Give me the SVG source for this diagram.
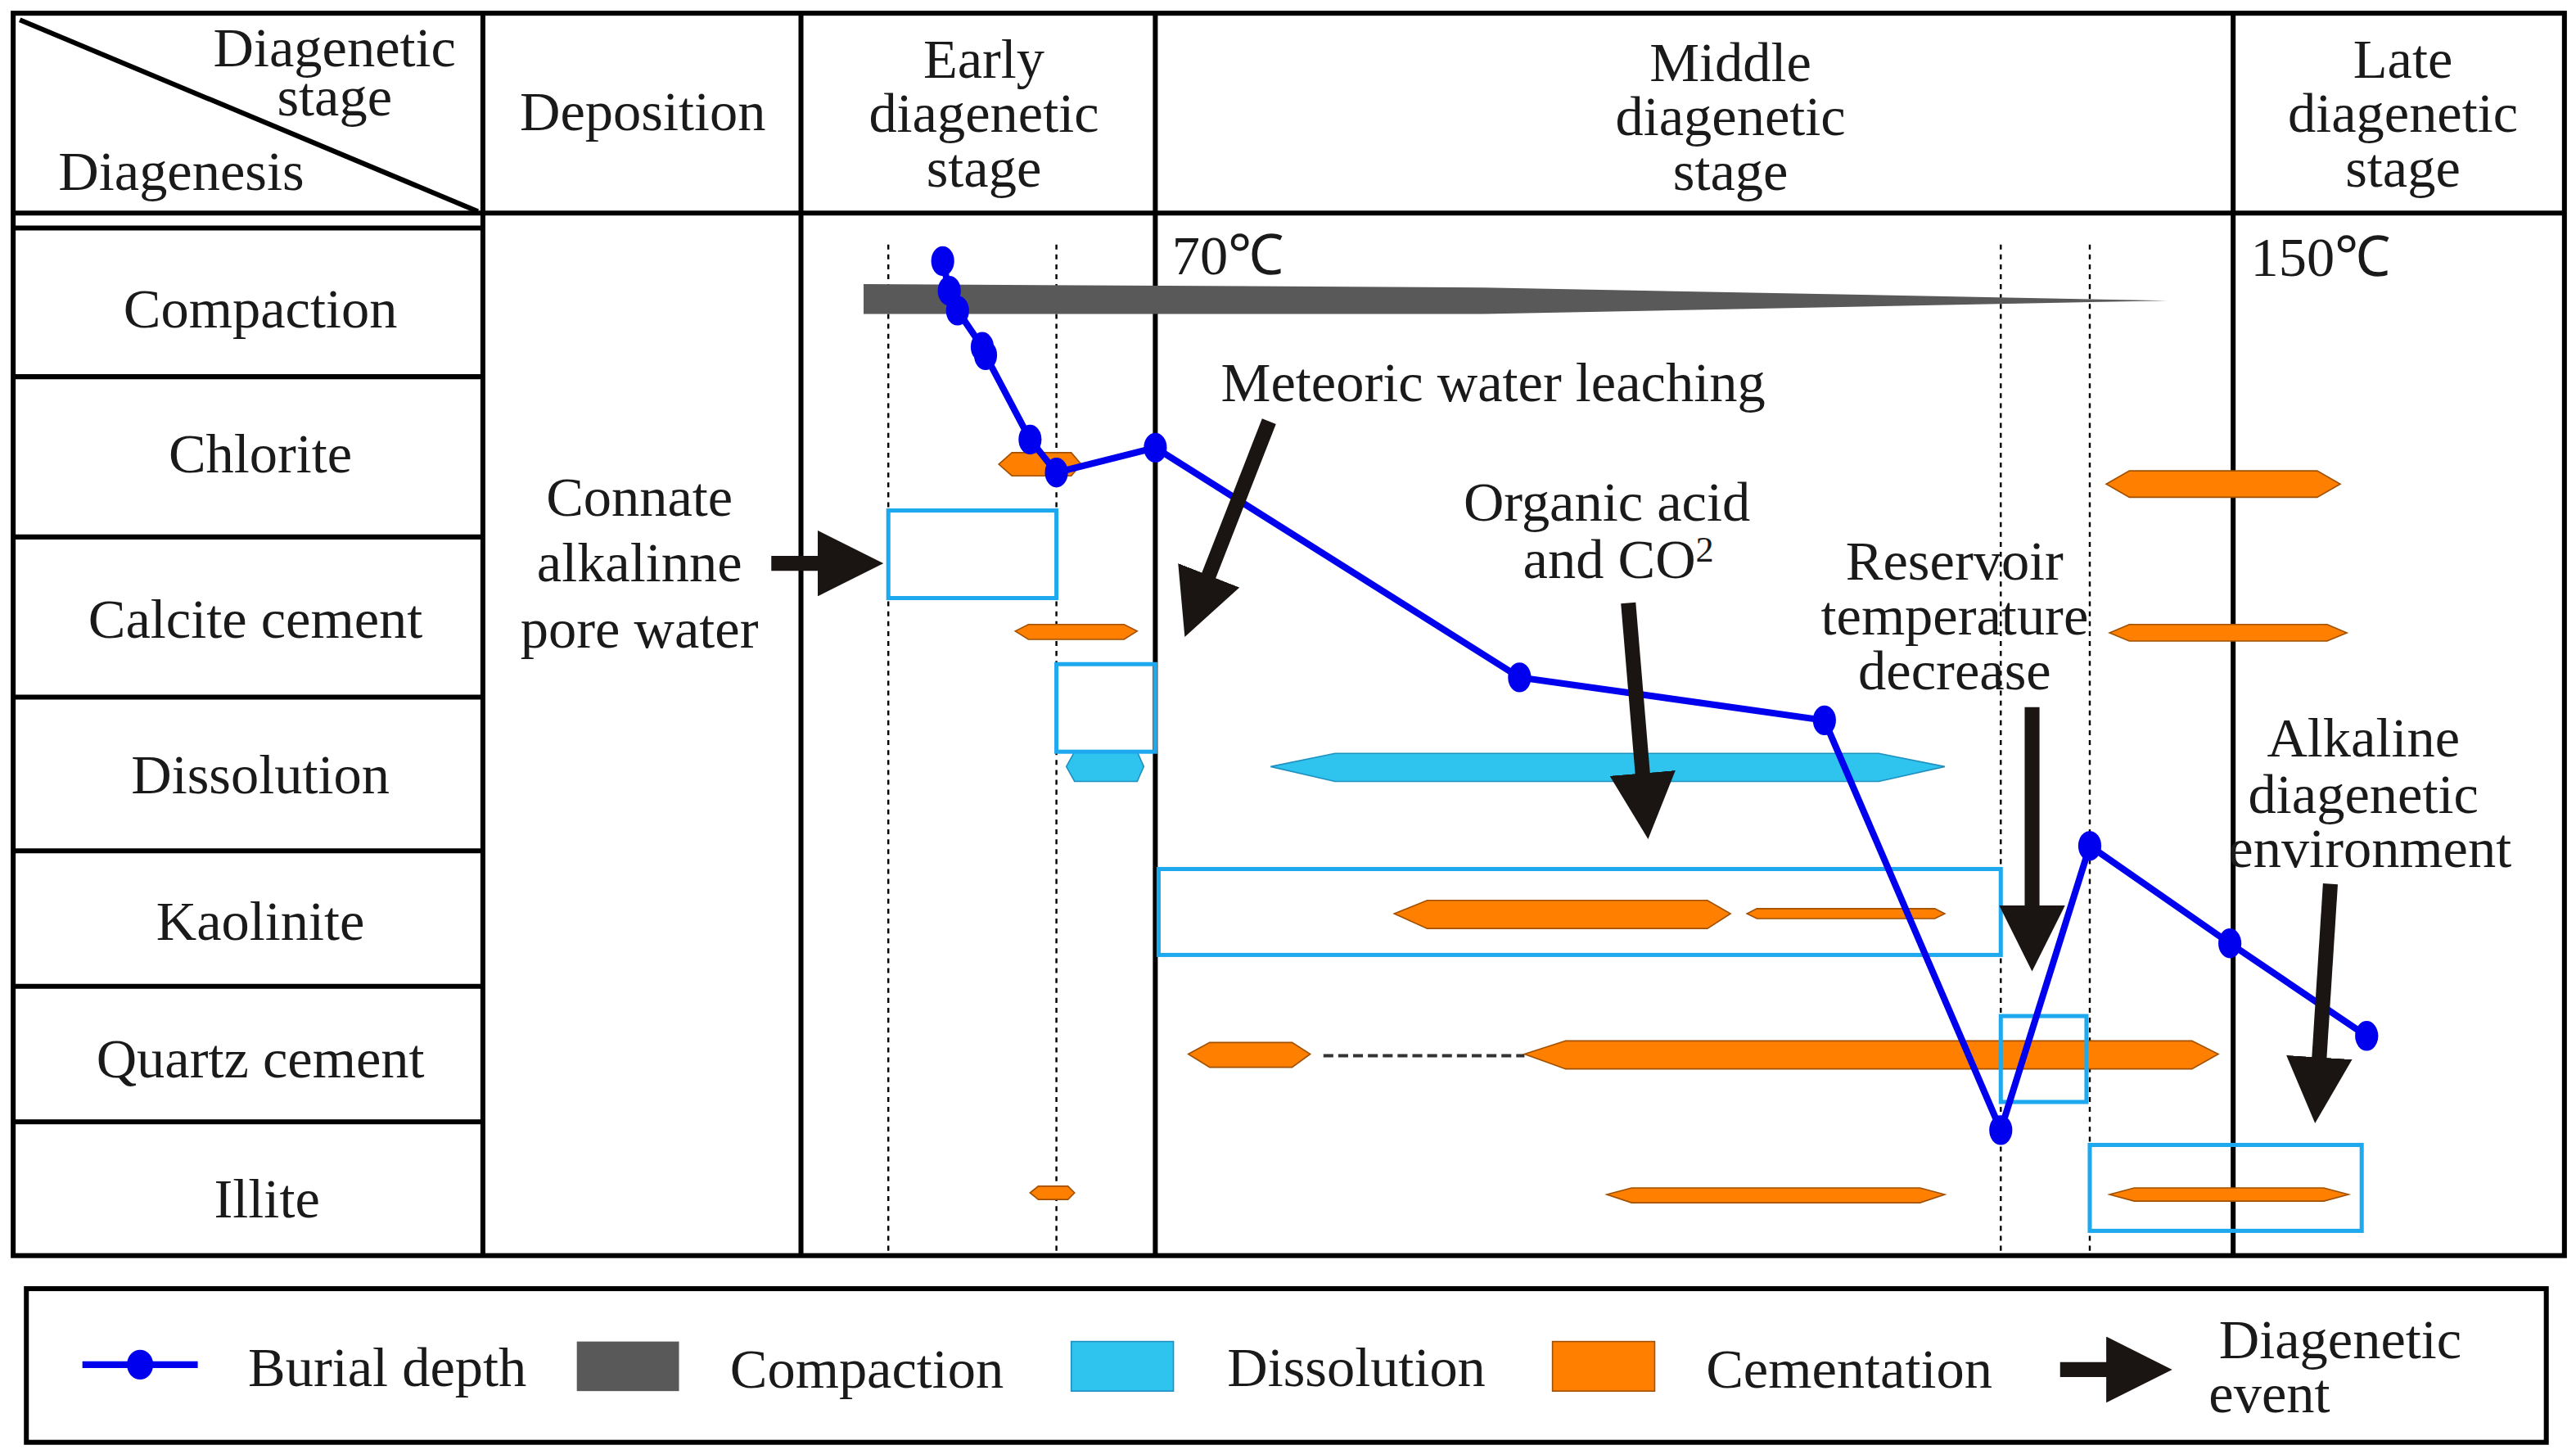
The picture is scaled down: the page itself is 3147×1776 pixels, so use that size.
<svg xmlns="http://www.w3.org/2000/svg" width="3147" height="1776" viewBox="0 0 3147 1776">
<style>
text{font-family:"Liberation Serif",serif;font-size:34px;fill:#1a1a1a;text-anchor:middle}
.g{stroke:#000;stroke-width:3;fill:none}
.d{stroke:#000;stroke-width:1.2;stroke-dasharray:3,3;fill:none}
.o{fill:#ff7f00;stroke:#a05000;stroke-width:0.8}
.c{fill:#2ec4ee;stroke:#2090c0;stroke-width:0.8}
.bx{fill:none;stroke:#1ea8ee;stroke-width:2.5}
.ar{stroke:#1a1512;stroke-width:9;fill:none;marker-end:url(#ah)}
.pt{fill:#0000ee}
</style>
<defs>
<marker id="ah" markerUnits="userSpaceOnUse" viewBox="0 0 40 40" refX="4" refY="20" markerWidth="40" markerHeight="40" orient="auto"><path d="M0,0 L40,20 L0,40 Z" fill="#1a1512"/></marker>
</defs>
<rect width="3147" height="1776" fill="#fff"/>
<g transform="scale(2.0134,2.018)">
<g id="table">
<rect x="8" y="8" width="1548" height="752" class="g"/>
<line x1="8" y1="129" x2="1556" y2="129" class="g"/>
<line x1="8" y1="138" x2="293" y2="138" class="g"/>
<line x1="293" y1="8" x2="293" y2="760" class="g"/>
<line x1="486" y1="8" x2="486" y2="760" class="g"/>
<line x1="701" y1="8" x2="701" y2="760" class="g"/>
<line x1="1355" y1="8" x2="1355" y2="760" class="g"/>
<line x1="8" y1="228" x2="293" y2="228" class="g"/>
<line x1="8" y1="325" x2="293" y2="325" class="g"/>
<line x1="8" y1="422" x2="293" y2="422" class="g"/>
<line x1="8" y1="515" x2="293" y2="515" class="g"/>
<line x1="8" y1="597" x2="293" y2="597" class="g"/>
<line x1="8" y1="679" x2="293" y2="679" class="g"/>
<line x1="12" y1="12" x2="290" y2="128" class="g"/>
<line x1="539" y1="148" x2="539" y2="760" class="d"/>
<line x1="641" y1="148" x2="641" y2="760" class="d"/>
<line x1="1214" y1="148" x2="1214" y2="760" class="d"/>
<line x1="1268" y1="148" x2="1268" y2="760" class="d"/>
<text x="203" y="40">Diagenetic</text>
<text x="203" y="70">stage</text>
<text x="110" y="115">Diagenesis</text>
<text x="390" y="79">Deposition</text>
<text x="597" y="47">Early</text>
<text x="597" y="80">diagenetic</text>
<text x="597" y="113">stage</text>
<text x="1050" y="49">Middle</text>
<text x="1050" y="82">diagenetic</text>
<text x="1050" y="115">stage</text>
<text x="1458" y="47">Late</text>
<text x="1458" y="80">diagenetic</text>
<text x="1458" y="113">stage</text>
<text x="158" y="198">Compaction</text>
<text x="158" y="286">Chlorite</text>
<text x="155" y="386">Calcite cement</text>
<text x="158" y="480">Dissolution</text>
<text x="158" y="569">Kaolinite</text>
<text x="158" y="652">Quartz cement</text>
<text x="162" y="737">Illite</text>
<text x="388" y="312">Connate</text>
<text x="388" y="352">alkalinne</text>
<text x="388" y="392">pore water</text>
<text x="745" y="166">70℃</text>
<text x="1408" y="167">150℃</text>
<text x="906" y="243">Meteoric water leaching</text>
<text x="975" y="315">Organic acid</text>
<text x="982" y="350">and CO<tspan font-size="22" dy="-10">2</tspan></text>
<text x="1186" y="351">Reservoir</text>
<text x="1186" y="384">temperature</text>
<text x="1186" y="417">decrease</text>
<text x="1434" y="458">Alkaline</text>
<text x="1434" y="492">diagenetic</text>
<text x="1438" y="525">environment</text>
</g>
<g id="bars">
<polygon points="524,172 900,174 1315,182 900,190 524,190" fill="#595959"/>
<polygon class="o" points="606,281 614,274 650,274 656,281 650,288 614,288"/>
<polygon class="o" points="1278,293 1292,285 1406,285 1420,293 1406,301 1292,301"/>
<polygon class="o" points="616,382 624,378 682,378 690,382 682,387 624,387"/>
<polygon class="o" points="1280,383 1292,378 1412,378 1424,383 1412,388 1292,388"/>
<polygon class="c" points="647,464 652,455 690,455 694,464 690,473 652,473"/>
<polygon class="c" points="771,464 810,456 1140,456 1180,464 1140,473 810,473"/>
<polygon class="o" points="846,553 866,545 1036,545 1050,553 1036,562 866,562"/>
<polygon class="o" points="1060,553 1066,550 1174,550 1180,553 1174,556 1066,556"/>
<polygon class="o" points="721,638 734,631 784,631 795,638 784,646 734,646"/>
<line x1="803" y1="639" x2="925" y2="639" stroke="#333" stroke-width="2" stroke-dasharray="6,3"/>
<polygon class="o" points="925,638 950,630 1330,630 1346,638 1330,647 950,647"/>
<polygon class="o" points="625,722 630,718 648,718 652,722 648,726 630,726"/>
<polygon class="o" points="975,723 990,719 1165,719 1180,723 1165,728 990,728"/>
<polygon class="o" points="1280,723 1295,719 1410,719 1425,723 1410,727 1295,727"/>
<rect class="bx" x="539" y="309" width="102" height="53"/>
<rect class="bx" x="641" y="402" width="60" height="53"/>
<rect class="bx" x="703" y="526" width="511" height="52"/>
<rect class="bx" x="1214" y="615" width="52" height="52"/>
<rect class="bx" x="1268" y="693" width="165" height="52"/>
</g>
<g id="connectors">
<polyline points="572,158 576,176 581,188 596,210 598,215 625,266 641,286 701,271 922,410 1107,436 1214,684 1268,512 1353,571 1436,627" fill="none" stroke="#0000ee" stroke-width="4"/>
<g class="pt">
<ellipse cx="572" cy="158" rx="7" ry="9"/><ellipse cx="576" cy="176" rx="7" ry="9"/><ellipse cx="581" cy="188" rx="7" ry="9"/><ellipse cx="596" cy="210" rx="7" ry="9"/><ellipse cx="598" cy="215" rx="7" ry="9"/><ellipse cx="625" cy="266" rx="7" ry="9"/><ellipse cx="641" cy="286" rx="7" ry="9"/><ellipse cx="701" cy="271" rx="7" ry="9"/><ellipse cx="922" cy="410" rx="7" ry="9"/><ellipse cx="1107" cy="436" rx="7" ry="9"/><ellipse cx="1214" cy="684" rx="7" ry="9"/><ellipse cx="1268" cy="512" rx="7" ry="9"/><ellipse cx="1353" cy="571" rx="7" ry="9"/><ellipse cx="1436" cy="627" rx="7" ry="9"/>
</g>
<line class="ar" x1="468" y1="341" x2="500" y2="341"/>
<line class="ar" x1="770" y1="255" x2="732" y2="352"/>
<line class="ar" x1="988" y1="365" x2="997" y2="472"/>
<line class="ar" x1="1233" y1="428" x2="1233" y2="552"/>
<line class="ar" x1="1414" y1="535" x2="1407" y2="644"/>
</g>
<g id="legend">
<rect x="16" y="780" width="1529" height="93" class="g"/>
<line x1="50" y1="826" x2="120" y2="826" stroke="#0000ee" stroke-width="4"/>
<ellipse cx="85" cy="826" rx="8" ry="9" class="pt"/>
<text x="235" y="839">Burial depth</text>
<rect x="350" y="812" width="62" height="30" fill="#595959"/>
<text x="526" y="840">Compaction</text>
<rect x="650" y="812" width="62" height="30" class="c"/>
<text x="823" y="839">Dissolution</text>
<rect x="942" y="812" width="62" height="30" class="o"/>
<text x="1122" y="840">Cementation</text>
<line class="ar" x1="1250" y1="829" x2="1282" y2="829"/>
<text x="1420" y="822">Diagenetic</text>
<text x="1377" y="855">event</text>
</g>
</g>
</svg>
